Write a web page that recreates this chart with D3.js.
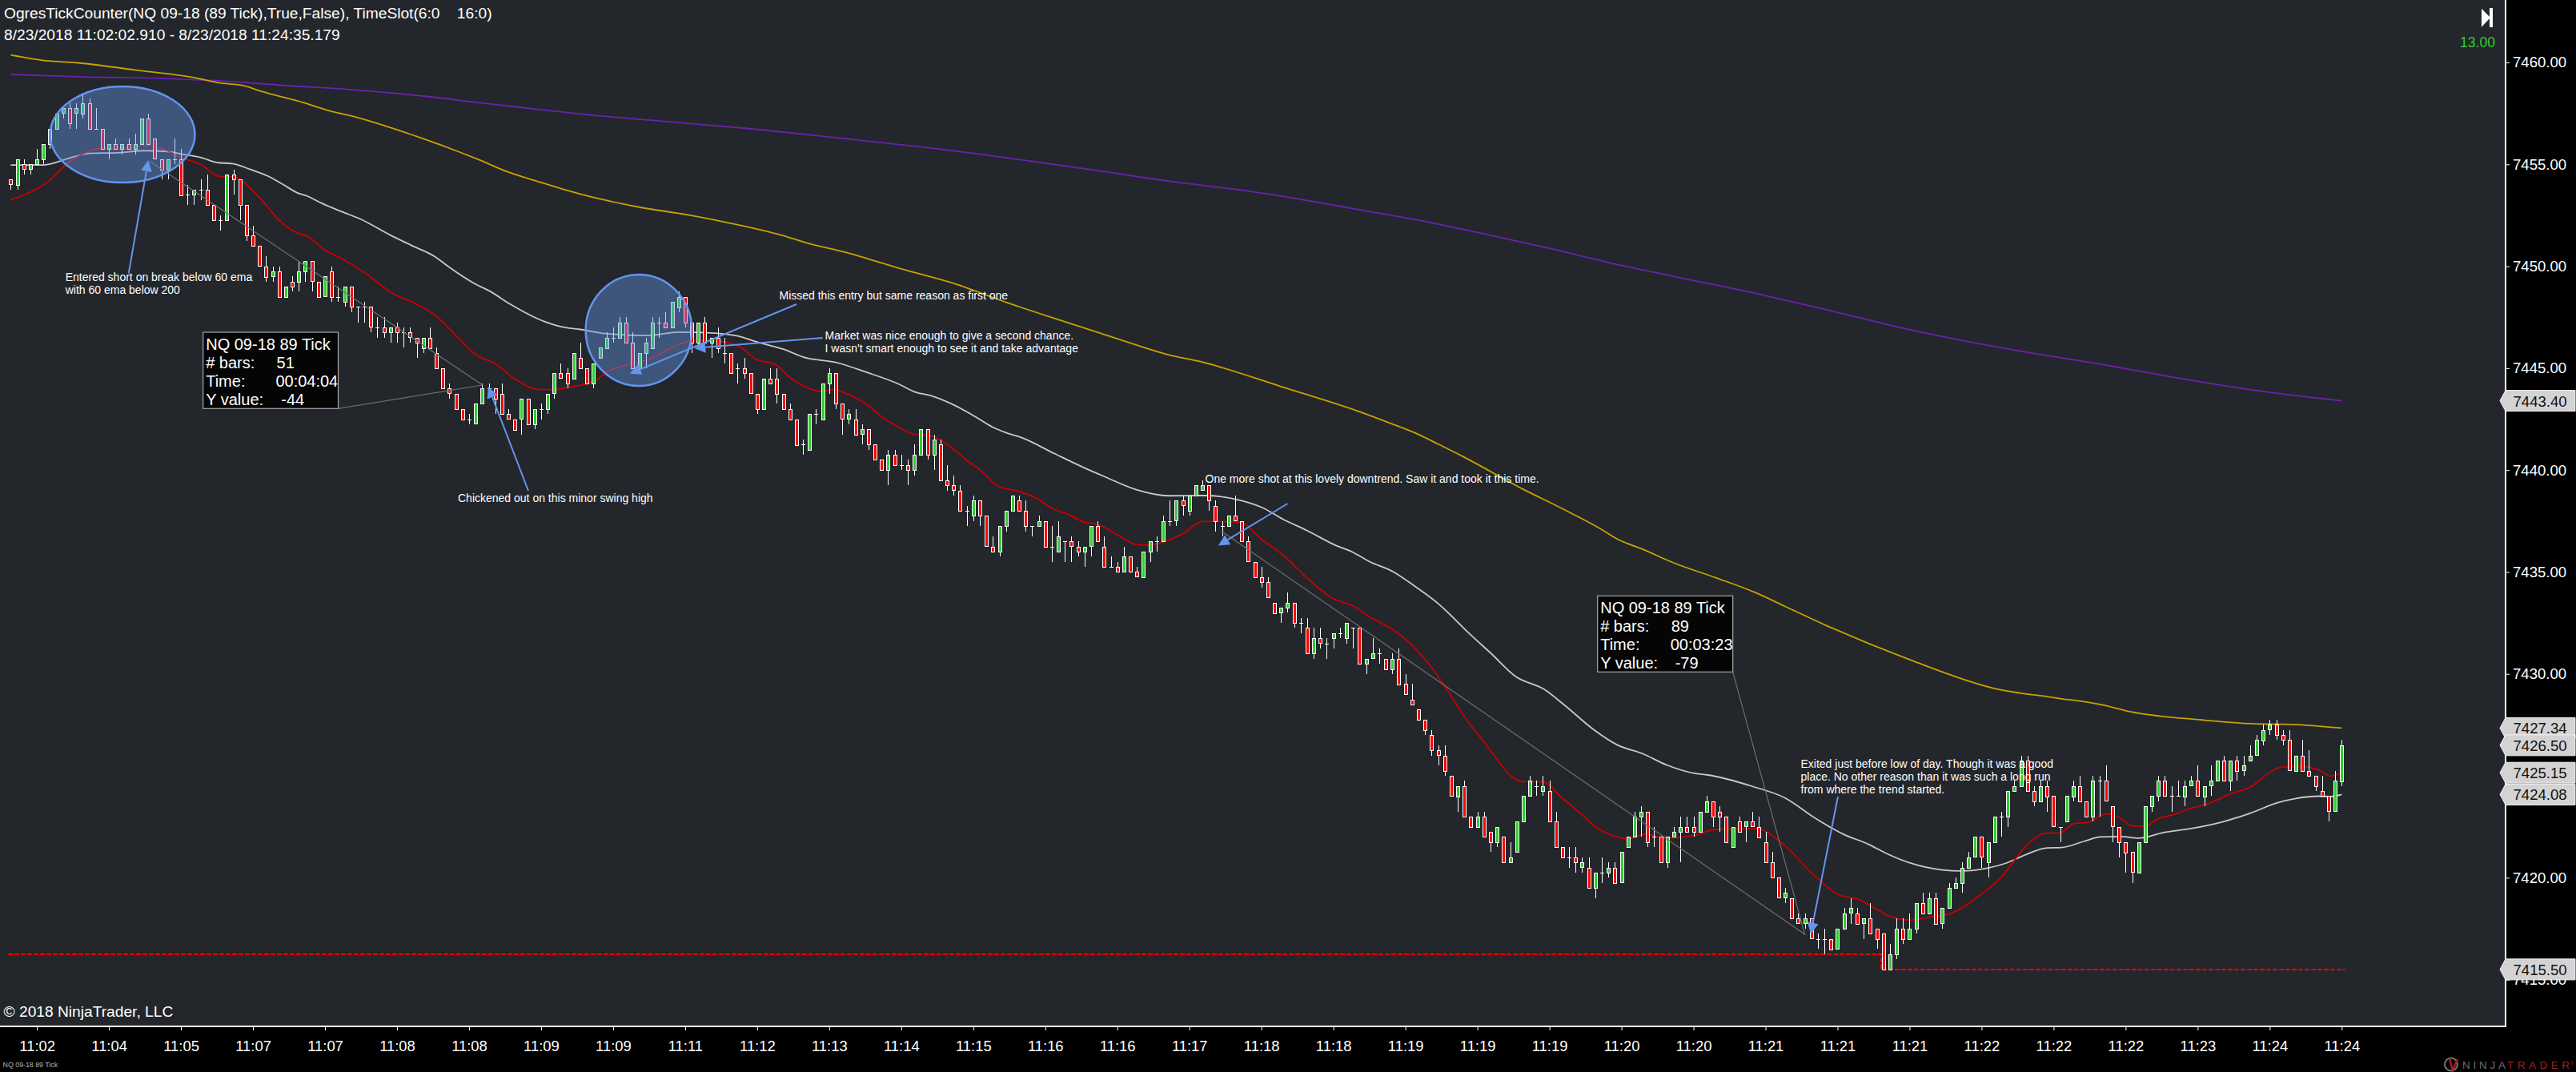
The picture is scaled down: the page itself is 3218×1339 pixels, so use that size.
<!DOCTYPE html>
<html>
<head>
<meta charset="utf-8">
<title>NQ 09-18 89 Tick</title>
<script src="https://d3js.org/d3.v7.min.js"></script>
<style>
  body { margin: 0; background: #000; }
  text { font-family: "Liberation Sans", Arial, sans-serif; fill: #fff; }
</style>
</head>
<body>
<svg id="chart" width="3218" height="1339"></svg>
<script>
// all prices below are points above this base
const priceBase = 7400;

const opens = [
  54.25,54,55,54.75,55,55.25,56,56.75,57.5,57.75,
  57.5,57.5,58,56.75,56.75,55.75,56,55.75,56,55.75,
  56,57.25,56.25,55.25,54.75,55.25,55.25,53.5,53.5,53.75,
  53.75,53,52.25,52.25,54.5,54.25,53,51.5,51,50,
  49.5,49.75,48.5,49.25,49.25,49.75,50.25,49.25,48.5,49.75,
  48.5,48.25,49,48,48,48,47,47,46.75,47,
  46.75,46.75,46.5,46,46.5,45.75,45,44,43.75,43,
  42.5,42.25,43.25,44,44,43.75,42.75,42.5,42.5,43.5,
  42.25,43,43,43.75,44.75,44.75,44.5,45.5,45,44.25,
  45.5,46,46.5,46.5,47.25,46.25,45,45.75,46,47.25,
  47.25,47,48,48.5,47.25,46.25,47.25,46.25,46.5,45.75,
  45.75,45,45,44.75,43.75,43,44.5,44.5,43.75,43,
  42.5,41.25,41,42.75,42.5,44.25,44.75,43.25,42.5,42.5,
  41.75,42,41.25,40.5,40,40.75,40.25,40.25,40,40.75,
  42,40.75,41.25,39.5,39.25,39,38,37.75,38.5,37.75,
  36.25,36,37.25,38,38.5,38,37.25,37.25,37.5,36.25,
  36,36.5,36.5,36.25,36,36.25,37.25,36.25,35.25,35.25,
  35,35.75,35,34.75,36,36.5,36.5,37.5,37.5,38.5,
  38,38.75,39,39.25,38.25,37.25,37.25,37.75,37.5,36.5,
  35.5,34.75,34.5,33.5,33,33.25,33.5,32.5,32.25,31,
  31.75,31.5,31.75,32,31.75,32.25,32.25,30.5,30.75,31,
  30.75,30.25,30.75,29.5,28.75,28.25,27.75,27,26.25,26,
  25,24,24.5,23,22.5,23,22.25,21.75,22,20.75,
  21.25,22.75,24,24.5,24.25,24.25,22.75,21.5,21,21,
  20.5,20.5,19.5,20.25,20.25,20.5,19.75,21.5,22,23,
  23.25,22,22,20.75,22,22.25,22.5,22.5,22.25,23.25,
  23.75,23.25,23,21.5,22.75,22.5,22.75,22.5,21.75,20.75,
  20,19,19,18,17.75,18,17,17,17,16.5,
  17.5,18.25,18.25,17.75,18,17.5,17.25,15.5,16.25,17.5,
  17,17.5,18.75,18.25,19,17.75,18.5,19.5,19.75,20.5,
  21,22,20.75,21.75,23,23,24.25,24.5,25.75,24.25,
  23.75,24.5,24,22.5,22.75,24,24.5,23.75,23,24.75,
  24.75,23.5,22.5,21.75,21.25,20.25,21.75,23.5,24,24.75,
  24,24,24,24.5,24.75,24,24.5,24.75,25.75,24.75,
  25.75,25.25,25.75,26,26.75,27.25,27.5,27,26.75,25.25,
  26,25.25,25,24.25,24,23.25,24.75
];

const highs = [
  54.25,55.25,55.25,55,55.75,56,56.75,57.5,57.75,58,
  58,58.5,58.25,57.75,56.75,56,56.25,56,56.25,56.5,
  57.25,57.5,56.25,55.25,55.25,56.25,55.75,54,53.75,54.25,
  54.5,53,52.5,54.5,54.75,54.25,53,52,51,50.5,
  50,50,49,49.5,50.25,50.25,50.25,49.25,49.5,50,
  49,49,49,48,48.25,48,47.5,47.5,47,47.25,
  47,47,46.5,46.5,47,46,45,44.25,43.75,43,
  42.75,43.25,44.25,44.25,44,44.25,43,42.5,43.5,43.5,
  43,43.25,43.75,44.75,45.25,45,45.75,46.25,45,45.25,
  46,46.75,47,47.5,47.5,46.75,45.75,46.5,47.5,47.5,
  47.75,48.25,48.75,48.5,47.25,47.25,47.5,46.5,47,46.5,
  45.75,45.25,45.5,44.75,43.75,44.5,45,45,43.75,43.25,
  42.5,41.5,42.75,43,44.25,45,44.75,43.25,43,43,
  42.25,42,41.25,40.5,41,41,40.75,40.5,41.25,42,
  42,41.75,41.5,40.25,39.75,39.25,38.25,38.75,38.5,37.75,
  36.75,37.25,38,38.75,38.75,38.5,37.25,37.75,37.5,37.25,
  37.5,36.5,36.75,36.5,36.25,37.25,37.5,36.75,35.75,35.5,
  36.25,35.75,35.25,36,36.5,36.75,37.75,38.5,38.5,38.75,
  38.75,39.25,39.5,39.25,38.5,37.5,37.75,38.75,37.5,36.75,
  35.5,35.25,34.75,33.5,33.25,34,33.5,32.75,32.75,32.25,
  32.25,31.75,32,32.25,32.5,32.25,32.25,30.75,31.75,31.25,
  30.75,31,31.25,30,29.5,28.25,27.75,27.25,26.5,26.5,
  25,24.5,24.75,23,23.25,23.25,22.25,22.5,22,21.75,
  22.75,24,25,24.75,25,24.75,23.25,21.5,21.5,21.5,
  21,21,20.25,21,20.75,20.75,21.25,22,23.25,23.5,
  23.25,22.5,22,22,22.5,23,23,23,23.25,24,
  23.75,23.5,23,22.5,23,22.75,23.25,23,22.25,21.25,
  20,19.5,19,18.25,18.25,18,17.25,17.5,17,17.5,
  18.5,19,18.5,18,18.75,17.5,17.25,16.75,18,18,
  18.25,18.75,19.25,19.25,19.25,18.5,19.75,20,20.75,21.25,
  22,22,21.75,23,23.25,24.25,24.75,26,26,24.5,
  24.75,24.75,24,22.5,24,24.75,25,23.75,25,25,
  25.5,23.5,22.5,21.75,21.25,21.75,23.5,24,25,25,
  24.5,24.75,24.75,25,25.5,24.5,25.5,25.75,26,25.75,
  26,26,26.5,27,27.5,27.75,27.75,27.25,27.25,26,
  26.75,26.25,25,25,24,25.25,26.75
];

const lows = [
  53.75,53.75,54.5,54.5,55,55,55.75,56.75,57.25,56.75,
  56.75,57.25,56.75,56.75,55.75,55.25,55.75,55.5,55.75,55.5,
  56,56,55.25,54.25,54.25,55,53.5,53,53,53.25,
  53,52.25,51.75,52.25,53.5,52.25,51.25,51,50,49.25,
  49.25,48.5,48.5,48.75,48.75,49.25,48.75,48.5,48.5,48.25,
  48.25,48,47.75,47.25,47.25,46.75,46.5,46.5,46.25,46.25,
  46,46.25,45.5,45.75,46,45,44,43.5,43,42.5,
  42.25,42.25,43.25,43.75,42.75,42.75,42.5,42,41.75,42.25,
  42,42.5,42.75,43.5,44.5,44,44.5,45,44.25,44,
  45.5,46,46.25,46.5,46.25,45,44.75,45,46,46.5,
  47,47,47.75,47,45.75,46,46.25,45.5,45.75,45.25,
  44.75,44.25,44.5,43.75,42.75,43,44.25,43.25,43,42.5,
  41.25,40.75,41,42.25,42.5,43.75,43,41.75,42.25,41.75,
  41.25,41,40.5,40,39.25,40.25,40,39.25,39.75,40.75,
  40.5,40,39.5,39,38.75,38,37.25,37.5,37.25,36.25,
  36,35.75,37,38,38,37,36.75,37.25,36.25,35.5,
  36,35.5,35.5,35.75,35.25,35.75,36.5,35.25,35.25,35,
  35,35,34.75,34.75,35.5,36,36.5,37.25,37.25,37.75,
  37.75,38.75,39,38,37,36.75,37.25,37.5,36.5,35.5,
  34.75,34.25,33.75,33,32.5,33,32.25,32,31,30.75,
  31.25,30.75,31.25,31.75,31.5,31.25,30.5,30,30.75,30.5,
  30.25,30,29.5,29,28.5,27.75,27,26,25.5,25,
  24,23.25,23,22.5,22.5,22,21.25,21.5,20.75,20.75,
  21.25,22.75,24,24,24,22.75,21.5,21,20.5,20.25,
  20.25,19.5,19,19.75,20,19.75,19.75,21.5,22,22,
  21.5,21.5,20.75,20.5,22,20.75,22.25,22,22.25,23.25,
  22.5,22.25,21.75,21.5,22.25,21.75,22.5,22,20.75,20,
  19,18.75,18,17.75,17.5,17,16.5,16.25,16.5,16.5,
  17.5,17.75,17.75,17,17.25,16.5,15.5,15.5,16,16.75,
  17,17.25,18.25,18.25,17.75,17.5,18.5,19.5,19.25,20.5,
  21,20.5,20,21.75,22,22.5,24.25,24.5,24.25,23.5,
  23.75,23.25,22.5,21.75,22.75,23.75,23.75,23,22.75,23,
  23.75,21.75,21,20.25,19.75,20.25,21.75,23.25,23.75,24,
  23.25,24,23.5,24.5,24,23.5,24,24.75,24.75,24.25,
  24.75,25,25.75,26,26.5,27,26.75,26.5,25.25,25.25,
  25.25,25,24.25,24,22.75,23.25,24.5
];

const closes = [
  54,55.25,54.75,55,55.25,56,56.75,57.5,57.75,57,
  57.75,58,56.75,56.75,55.75,56,55.75,56,55.75,56,
  57.25,56,55.25,54.75,55.25,55.25,53.5,53.5,53.75,53.75,
  53,52.25,52.25,54.5,54.25,53,51.5,51,50,49.5,
  49.75,48.5,49,49,49.75,50.25,49.25,48.5,49.5,48.5,
  48.5,49,48,48,48,47,47,46.75,47,46.75,
  46.75,46.5,46.25,46.5,46,45,44,43.75,43,42.5,
  42.5,43.25,44,44,43.5,42.75,42.5,42,43.5,42.25,
  43,43,43.75,44.75,44.5,44.25,45.75,45,44.25,45.25,
  46,46.5,46.5,47.25,46.25,45,45.75,46.25,47.25,47.25,
  47,48.25,48.5,47.25,46.25,47.25,46.25,46.5,46,45.75,
  44.75,45,44.75,43.75,43,44.5,44.25,43.75,43,42.5,
  41.25,41.25,42.75,42.75,44.25,44.75,43.25,42.5,42.75,41.75,
  42,41.25,40.5,40,40.75,40.25,40.25,40,40.75,42,
  40.75,41.5,39.5,39.25,39,38,38,38.5,37.75,36.25,
  36,37.25,38,38.75,38,37.25,37.25,37.5,36.25,36.25,
  36.75,36.5,36.25,36,36.25,37.25,36.5,35.25,35.25,35,
  35.75,35,34.75,36,36.5,36.5,37.5,37.5,38.5,38.25,
  38.75,39.25,39.25,38.5,37.5,37.25,37.75,37.5,36.5,35.5,
  34.75,34.5,33.75,33,33.25,33.5,32.5,32.5,31,31.75,
  31.5,31.5,32,32,32.5,32.25,30.5,30.75,31,31,
  30.25,30.75,29.5,29,28.5,27.75,27.25,26.25,26,25.25,
  24,24.5,23,22.5,23,22,21.75,22.5,20.75,21,
  22.75,24,24.75,24.5,24.5,22.75,21.5,21,21,20.75,
  20.75,19.5,20.25,20.25,20.5,19.75,21.25,22,23,23.25,
  21.75,22,20.75,22,22.25,22.5,22.25,22.25,23.25,23.75,
  23,23,21.75,22.5,22.25,22.75,22.5,22,20.75,20,
  19,19.25,18,17.75,18,17,17,17,16.5,17.5,
  18.25,18.5,17.75,18,17.25,17,15.5,16.25,17.5,17,
  17.5,18.75,18.25,19,17.75,18.5,19.5,19.75,20.5,21,
  22,21,21.75,23,23,24.25,24.5,25.75,24.25,23.75,
  24.5,24,22.5,22.5,24,24.5,23.75,23,24.75,24.75,
  23.75,22.5,21.75,21.25,20.25,21.75,23.5,24,24.75,24,
  24,24,24.5,24.75,24,24.5,24.75,25.75,24.75,25.75,
  25.25,25.5,26,26.75,27.25,27.5,27,26.75,25.25,26,
  25.25,25,24.5,24,23.25,24.75,26.5
];

// moving averages, read at these bar numbers
const redBars = [1,5,7,9.5,12,14,15.7,19.5,21,23,25,27,30,33,35,36.5,38,40,42,45,46.3,48.5,52,55,59.4,63,66,69.5,72.3,74.8,78,81.8,83.6,86.4,90,92.4,95.5,98.6,101,103.6,106,109,112.4,114.8,118,119.8,122.3,124.8,126.7,128.6,131.7,134.2,136.7,138.6,141.7,144.8,147.3,149,152,154.8,157.9,160,162.3,165,167,170.4,173.2,174.7,177.8,180.3,183,186.5,189,192,195.3,199,202.8,206.2,208.4,212,215.2,217.7,220.2,223.3,226.2,228.3,230.2,231.8,235.2,237.7,240.8,243,246.1,248,250.5,253.9,258,261.4,267.6,272,276,279.8,283.6,285.8,288.3,290.8,294.5,297,300.1,302,305.1,308.8,312,313.8,316.3,318.2,321,323.2,325,327,329,331.3,333.8,336.3,340,343,346,347.8,350.6,353.5,355.3,357];
const redValues = [53.27,53.79,54.23,55,55.5,55.76,55.76,55.8,55.93,55.86,55.66,55.34,55,54.4,54.4,54.16,53.7,53,52.26,51.6,51.48,50.9,50.3,49.7,48.66,48.14,47.55,46.44,45.6,45.26,44.47,43.95,43.95,44.08,44.34,44.87,45.19,45.45,45.85,46.24,46.37,46.33,46.04,45.45,45.13,44.6,44.08,43.86,43.95,43.75,43.23,42.57,42.1,41.79,41.66,41.07,40.41,40.02,39.17,38.97,38.58,38.12,37.86,37.44,37.34,36.75,36.33,36.33,36.55,36.94,37.48,37.48,37.42,36.61,35.84,34.7,33.73,33.3,32.82,32.19,31.35,30.44,29.31,27.77,26.58,25.67,24.97,24.73,24.69,23.98,23.14,22.51,22.02,21.91,22.13,21.95,22.06,22.37,22.4,21.56,20.25,19.23,18.88,18.48,18.06,17.92,18.09,18.22,18.75,19.2,20.05,21.56,22.19,22.19,22.67,22.71,23.13,22.93,22.53,22.53,22.9,23.09,23.39,23.59,24.11,24.44,25.16,25.43,25.46,25.29,24.99,25.15];

const whiteBars = [1,6,10.3,13,17.4,21.2,25,27.2,30,32.7,34.8,37.6,40.3,42.5,45,46.3,48.5,51.8,54.5,58.9,62.1,66,67.6,72,74.1,77.3,82.5,85.7,88,91.8,98.3,103,108.6,111.7,115.5,119.2,122,127.3,131.7,136.7,139.2,141.4,144.8,147.9,151,152.9,155.4,160.4,164.7,167.9,172.9,177.8,183.4,189,192.2,195.3,199,203.4,205.9,208.4,212.1,215.2,219,224,227.1,230.8,235.2,238.3,242.7,246.4,250.2,253.9,258.3,260.2,267,272,276.4,280.8,284.8,287.6,291,296,298.9,302.9,305.7,308.8,312,314.2,317.6,320.1,323.2,326,329.7,333.8,338.8,343,347.2,350,353.5,355.3,357];
const whiteValues = [54.97,54.97,55.34,55.54,55.57,55.67,55.63,55.5,55.34,55.08,55.04,54.75,54.42,54.03,53.57,53.44,53.09,52.65,52.3,51.54,51.04,50.43,50.04,49.12,48.79,48.14,47.29,46.99,46.9,46.7,46.6,46.77,46.72,46.6,46.24,45.91,45.55,45.26,44.8,44.21,43.82,43.66,43.23,42.7,42.1,41.85,41.59,40.81,40.15,39.7,39.04,38.74,38.75,38.5,38.15,37.59,37.03,36.3,35.98,35.53,35.02,34.36,33.45,31.91,31,29.88,29.24,28.47,27.28,26.51,26.09,25.53,25.11,25.04,24.48,23.91,22.96,22.15,21.63,21.17,20.73,20.38,20.33,20.47,20.71,21.14,21.46,21.48,21.78,22,22.02,21.94,22.21,22.4,22.74,23.16,23.68,23.89,24,23.98,24.08];

const goldBars = [1,6.5,11,20,28.8,33.2,36.5,39.2,45.8,50.1,53.1,58.9,63.8,69.8,72.7,77,82.1,88.1,96.7,104.4,109.6,119,122.5,128.5,137,144.7,153.3,161.9,167,172.6,177.9,182.7,195,207.2,211.6,216,218.9,222.7,232,237.7,243.9,246.4,250.2,255.2,261.4,267.6,272,278.1,291,303.9,313.2,320.1,325,335.7,343.2,349.4,357];
const goldValues = [60.37,60.08,59.99,59.63,59.27,58.98,58.87,58.59,58.02,57.59,57.37,56.81,56.28,55.57,55.2,54.62,54.1,53.53,52.92,52.52,52.2,51.5,51.15,50.69,49.87,49.19,48.2,47.29,46.76,46.17,45.65,45.32,44.1,42.84,42.31,41.75,41.29,40.68,39.06,38.15,37.1,36.61,36.12,35.42,34.72,33.97,33.31,32.4,30.7,29.29,28.83,28.5,28.13,27.74,27.56,27.52,27.34];

const purpleBars = [1,12.5,21.7,32.7,43,54,64.9,72.7,78.7,89.9,101.9,113.9,126.7,148.2,158.5,167.9,178.2,189.8,197,207.2,217,226.7,236.4,246.2,255,267.6,277.4,290,298.8,307.6,320.3,333.9,343.6,357];
const purpleValues = [59.41,59.29,59.24,59.1,58.87,58.64,58.32,58.02,57.8,57.41,57.08,56.75,56.32,55.54,55.08,54.65,54.16,53.7,53.34,52.76,52.2,51.54,50.85,50.1,49.5,48.66,47.94,46.96,46.37,45.85,45.19,44.41,43.92,43.4];

const priceTicks = [7460,7455,7450,7445,7440,7435,7430,7425,7420,7415];
const markerPrices = [7443.40,7427.34,7426.50,7425.15,7424.08,7415.50];
const timeLabels = ["11:02","11:04","11:05","11:07","11:07","11:08","11:08","11:09","11:09","11:11","11:12","11:13","11:14","11:15","11:16","11:16","11:17","11:18","11:18","11:19","11:19","11:19","11:20","11:20","11:21","11:21","11:21","11:22","11:22","11:22","11:23","11:24","11:24"];

const bars = opens.map((o, i) => ({ bar: i + 1, o: o, h: highs[i], l: lows[i], c: closes[i] }));

const svg = d3.select("#chart");

const x = d3.scaleLinear().domain([1, 357]).range([13.4, 2925.3]);
const y = d3.scaleLinear().domain([7460, 7415]).range([78, 1223.6]);

// snap to the pixel grid so candles stay crisp
const snap = v => Math.round(v) + 0.5;

// background
svg.append("rect").attr("width", 3218).attr("height", 1339).attr("fill", "#000");
svg.append("rect").attr("width", 3129).attr("height", 1281).attr("fill", "#23262b");

// axes
const yAxis = d3.axisRight(y).tickValues(priceTicks).tickFormat(d3.format(".2f")).tickSize(5).tickPadding(4);
const yG = svg.append("g").attr("transform", "translate(3130,0)").call(yAxis);
yG.select(".domain").remove();
yG.selectAll("line").attr("stroke", "#fff");
yG.selectAll("text").style("font-size", "18.6px").style("font-family", '"Liberation Sans"').attr("fill", "#fff");

const timeTicks = timeLabels.map((d, i) => 5 + i * 11);
const xAxis = d3.axisBottom(x).tickValues(timeTicks).tickFormat((d, i) => timeLabels[i]).tickSize(5).tickPadding(13);
const xG = svg.append("g").attr("transform", "translate(0,1282)").call(xAxis);
xG.select(".domain").remove();
xG.selectAll("line").attr("stroke", "#fff");
xG.selectAll("text").style("font-size", "18.4px").style("font-family", '"Liberation Sans"').attr("fill", "#fff");

svg.append("line").attr("x1", 0).attr("x2", 3131).attr("y1", 1282).attr("y2", 1282).attr("stroke", "#fff").attr("stroke-width", 2);
svg.append("line").attr("x1", 3130).attr("x2", 3130).attr("y1", 0).attr("y2", 1282).attr("stroke", "#fff").attr("stroke-width", 2);

// moving averages
const lineGen = d3.line().x(d => x(d[0])).y(d => y(priceBase + d[1])).curve(d3.curveMonotoneX);
function drawAverage(barNums, values, colour) {
  svg.append("path")
    .attr("d", lineGen(d3.zip(barNums, values)))
    .attr("fill", "none")
    .attr("stroke", colour)
    .attr("stroke-width", 1.8);
}
drawAverage(purpleBars, purpleValues, "#6b21ad");
drawAverage(goldBars, goldValues, "#c8a200");
drawAverage(whiteBars, whiteValues, "#c8c8c8");
drawAverage(redBars, redValues, "#c80000");

// low of day lines
const lowLine = d3.line().x(d => d[0]).y(d => y(d[1]));
svg.append("path")
  .attr("d", lowLine([[10, 7416.25], [2350, 7416.25], [2350, 7415.5], [2930, 7415.5]]))
  .attr("fill", "none")
  .attr("stroke", "#ff0000")
  .attr("stroke-width", 2)
  .attr("stroke-dasharray", "6,2")
  .attr("shape-rendering", "crispEdges");

// candles
const candleG = svg.append("g").attr("shape-rendering", "crispEdges");
candleG.selectAll("line.wick").data(bars).join("line")
  .attr("class", "wick")
  .attr("x1", d => snap(x(d.bar)))
  .attr("x2", d => snap(x(d.bar)))
  .attr("y1", d => y(priceBase + d.h))
  .attr("y2", d => y(priceBase + d.l))
  .attr("stroke", "#fff");

candleG.selectAll("rect.body").data(bars.filter(d => d.o !== d.c)).join("rect")
  .attr("class", "body")
  .attr("x", d => snap(x(d.bar)) - 2)
  .attr("width", 4)
  .attr("y", d => snap(y(priceBase + Math.max(d.o, d.c))))
  .attr("height", d => Math.round(Math.abs(y(priceBase + d.o) - y(priceBase + d.c))))
  .attr("fill", d => d.c > d.o ? "#32cd32" : "#ff0000")
  .attr("stroke", "#fff");

// bars that closed where they opened
candleG.selectAll("line.doji").data(bars.filter(d => d.o === d.c)).join("line")
  .attr("class", "doji")
  .attr("x1", d => snap(x(d.bar)) - 2.5)
  .attr("x2", d => snap(x(d.bar)) + 2.5)
  .attr("y1", d => snap(y(priceBase + d.c)))
  .attr("y2", d => snap(y(priceBase + d.c)))
  .attr("stroke", "#fff");

// ruler lines
function rulerLine(pts) {
  svg.append("polyline")
    .attr("points", pts.map(p => p.join(",")).join(" "))
    .attr("fill", "none")
    .attr("stroke", "#6e6e6e")
    .attr("stroke-width", 1.2);
}
rulerLine([[187.5, 201.7], [602.8, 481], [422.5, 510.3]]);
rulerLine([[1526, 663.6], [2254.6, 1167], [2164.7, 839.3]]);

// highlight circles
function highlight(cx, cy, rx, ry) {
  svg.append("ellipse")
    .attr("cx", cx).attr("cy", cy).attr("rx", rx).attr("ry", ry)
    .attr("fill", "#6495ed").attr("fill-opacity", 0.42)
    .attr("stroke", "#6495ed").attr("stroke-width", 2.5);
}
highlight(153, 168, 90.5, 60);
highlight(798, 412.5, 66.3, 69.5);

// arrows
function arrow(x1, y1, x2, y2) {
  const a = Math.atan2(y2 - y1, x2 - x1);
  const len = 14, half = 7;
  const bx = x2 - len * Math.cos(a), by = y2 - len * Math.sin(a);
  svg.append("line")
    .attr("x1", x1).attr("y1", y1).attr("x2", bx).attr("y2", by)
    .attr("stroke", "#6495ed").attr("stroke-width", 2);
  svg.append("polygon")
    .attr("points", [
      [x2, y2],
      [bx - half * Math.sin(a), by + half * Math.cos(a)],
      [bx + half * Math.sin(a), by - half * Math.cos(a)]
    ].map(p => p.join(",")).join(" "))
    .attr("fill", "#6495ed");
}
arrow(160.7, 341.7, 185.3, 200);
arrow(660, 613, 610, 483);
arrow(995, 380, 786.7, 466.7);
arrow(1027.6, 422, 867.3, 435);
arrow(1608.6, 629, 1521.8, 681.4);
arrow(2296, 995, 2262, 1166.7);

// notes
function note(tx, lines, baseline) {
  lines.forEach((t, i) => {
    svg.append("text").attr("x", tx).attr("y", baseline + i * 16).attr("font-size", 14).text(t);
  });
}
note(81.7, ["Entered short on break below 60 ema", "with 60 ema below 200"], 351);
note(572, ["Chickened out on this minor swing high"], 627);
note(973.5, ["Missed this entry but same reason as first one"], 374);
note(1030.6, ["Market was nice enough to give a second chance.", "I wasn't smart enough to see it and take advantage"], 424);
note(1505.5, ["One more shot at this lovely downtrend. Saw it and took it this time."], 603);
note(2249.5, ["Exited just before low of day. Though it was a good", "place. No other reason than it was such a long run", "from where the trend started."], 959);

// ruler boxes
function rulerBox(bx, by, bw, bh, barsText, timeText, valueText, colX, timeX, valueX) {
  svg.append("rect").attr("x", bx).attr("y", by).attr("width", bw).attr("height", bh)
    .attr("fill", "#050505").attr("stroke", "#a8a8a8").attr("stroke-width", 1.2);
  const tx = bx + 3.5;
  const rows = [
    ["NQ 09-18 89 Tick", null, null],
    ["# bars:", barsText, colX],
    ["Time:", timeText, timeX],
    ["Y value:", valueText, valueX]
  ];
  rows.forEach((r, i) => {
    const base = by + 22 + i * 23;
    svg.append("text").attr("x", tx).attr("y", base).attr("font-size", 20).text(r[0]);
    if (r[1]) svg.append("text").attr("x", r[2]).attr("y", base).attr("font-size", 20).text(r[1]);
  });
}
rulerBox(253.7, 415, 168.8, 95.3, "51", "00:04:04", "-44", 345.6, 344.4, 351.3);
rulerBox(1995.7, 744.3, 169, 95, "89", "00:03:23", "-79", 2087.7, 2086.7, 2092.7);

// price markers on the axis
markerPrices.forEach(p => {
  const my = y(p);
  svg.append("polygon")
    .attr("points", [[3123, my], [3130, my - 13], [3217, my - 13], [3217, my + 13], [3130, my + 13]].map(q => q.join(",")).join(" "))
    .attr("fill", "#d3d3d3").attr("stroke", "#f4f4f4");
  svg.append("text").attr("x", 3139.5).attr("y", my + 7).attr("font-size", 18.6).style("fill", "#111").text(d3.format(".2f")(p));
});

// titles and corner text
svg.append("text").attr("x", 5).attr("y", 22.5).attr("font-size", 19.2).style("white-space", "pre")
  .text("OgresTickCounter(NQ 09-18 (89 Tick),True,False), TimeSlot(6:0    16:0)");
svg.append("text").attr("x", 5).attr("y", 49.5).attr("font-size", 19.2).text("8/23/2018 11:02:02.910 - 8/23/2018 11:24:35.179");
svg.append("text").attr("x", 4.5).attr("y", 1270).attr("font-size", 19.2).text("© 2018 NinjaTrader, LLC");
svg.append("text").attr("x", 3.6).attr("y", 1333).attr("font-size", 8.8).style("fill", "#b5b5b5").text("NQ 09-18 89 Tick");

svg.append("text").attr("x", 3073).attr("y", 59).attr("font-size", 17.6).style("fill", "#32cd32").text("13.00");
svg.append("polygon").attr("points", "3100,10.7 3111,22 3100,33.7").attr("fill", "#fff");
svg.append("rect").attr("x", 3110).attr("y", 10).attr("width", 4).attr("height", 24).attr("fill", "#fff");

// ninjatrader logo
svg.append("circle").attr("cx", 3062).attr("cy", 1329.5).attr("r", 8).attr("fill", "none").attr("stroke", "#7a7672").attr("stroke-width", 2);
svg.append("path").attr("d", "M3060,1322 L3064,1337 L3070,1323").attr("fill", "none").attr("stroke", "#a02222").attr("stroke-width", 2.5);
svg.append("text").attr("x", 3076).attr("y", 1335).attr("font-size", 13.5).attr("textLength", 54).style("fill", "#6a6a6a").text("NINJA");
svg.append("text").attr("x", 3132).attr("y", 1335).attr("font-size", 13.5).attr("textLength", 78).style("fill", "#a02222").text("TRADER");
svg.append("text").attr("x", 3211).attr("y", 1330).attr("font-size", 6).style("fill", "#a02222").text("®");
</script>
</body>
</html>
